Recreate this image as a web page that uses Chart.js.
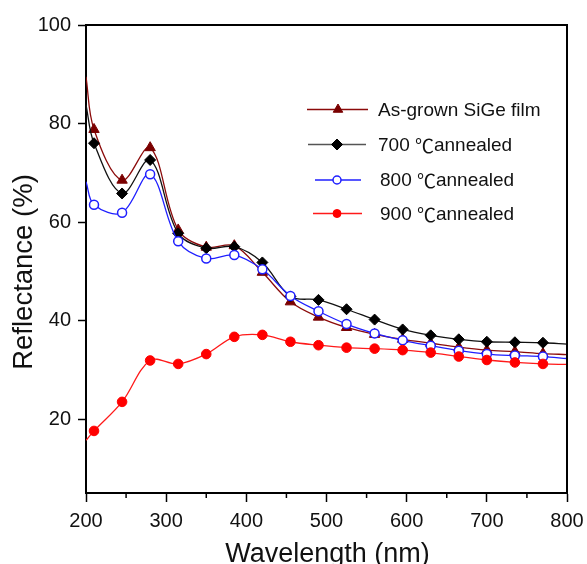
<!DOCTYPE html>
<html>
<head>
<meta charset="utf-8">
<script src="https://cdn.jsdelivr.net/npm/chart.js@4.4.1/dist/chart.umd.min.js"></script>
<style>
  html, body { margin: 0; padding: 0; background: #fff; }
  canvas { display: block; }
</style>
</head>
<body>
<canvas id="chart" width="587" height="564"></canvas>
<script>
// Reflectance spectra of SiGe films (%), sampled every 35 nm from 210 to 770 nm;
// the 200 and 800 nm entries carry the curves to the axis edges without a marker.
const wavelengths  = [200, 210, 245, 280, 315, 350, 385, 420, 455, 490, 525, 560, 595, 630, 665, 700, 735, 770, 800];
const asGrown      = [89.5, 78.8, 68.5, 75.1, 58.4, 54.9, 55.2, 49.8, 43.8, 40.7, 38.6, 37.2, 36.2, 35.4, 34.6, 34.0, 33.7, 33.3, 33.1];
const annealed700  = [83.8, 76.0, 65.8, 72.6, 57.7, 54.7, 55.0, 51.8, 44.9, 44.2, 42.3, 40.2, 38.2, 37.0, 36.2, 35.7, 35.6, 35.5, 35.2];
const annealed800  = [68.2, 63.5, 61.9, 69.7, 56.1, 52.6, 53.3, 50.4, 45.0, 41.9, 39.3, 37.4, 36.0, 34.9, 33.9, 33.2, 32.9, 32.7, 32.3];
const annealed900  = [15.7, 17.6, 23.5, 31.9, 31.2, 33.2, 36.7, 37.1, 35.7, 35.0, 34.5, 34.3, 34.0, 33.5, 32.7, 32.0, 31.5, 31.2, 31.1];

const seriesNames  = ['As-grown SiGe film', '700 \u2103annealed', '800 \u2103annealed', '900 \u2103annealed'];

const xTicks       = [200, 300, 400, 500, 600, 700, 800];
const xMinorTicks  = [250, 350, 450, 550, 650, 750];
const yTicks       = [20, 40, 60, 80, 100];

const xTitle = 'Wavelength (nm)';
const yTitle = 'Reflectance (%)';

const FONT = '"Liberation Sans", Arial, sans-serif';
const CJK_FONT = '"Noto Sans CJK SC", "Noto Sans CJK JP", sans-serif';
const DEGREE_C = '\u2103';
const LEGEND_SIZE = 19;
const lastIndex = wavelengths.length - 1;

function toPoints(values) {
  return wavelengths.map((w, i) => ({ x: w, y: values[i] }));
}

// marker hidden on the two edge entries
function markerSize(r) {
  return ctx => (ctx.dataIndex === 0 || ctx.dataIndex === lastIndex) ? 0 : r;
}

const styles = [
  { line: '#8b0a0a', legendLine: '#8b0a0a', point: 'triangle', r: 6,   fill: '#7a0000', stroke: '#7a0000', order: 3 },
  { line: '#111111', legendLine: '#555555', point: 'rectRot',  r: 5.5, fill: '#000000', stroke: '#000000', order: 2 },
  { line: '#1f1fff', legendLine: '#1f1fff', point: 'circle',   r: 4.5, fill: '#ffffff', stroke: '#1f1fff', order: 1 },
  { line: '#ff1a1a', legendLine: '#ff1a1a', point: 'circle',   r: 4.8, fill: '#ff0000', stroke: '#ff0000', order: 0 }
];

const seriesValues = [asGrown, annealed700, annealed800, annealed900];

const datasets = seriesValues.map((vals, i) => ({
  label: seriesNames[i],
  data: toPoints(vals),
  borderColor: styles[i].line,
  borderWidth: 1.3,
  tension: 0.35,
  pointStyle: styles[i].point,
  pointRadius: markerSize(styles[i].r),
  pointBackgroundColor: styles[i].fill,
  pointBorderColor: styles[i].stroke,
  pointBorderWidth: i === 2 ? 1.5 : 1,
  order: styles[i].order
}));

// writes a label, setting the degree sign in the CJK face
function drawLabel(ctx, text, x, y) {
  const parts = text.split(DEGREE_C);
  let cx = x;
  parts.forEach((part, k) => {
    ctx.font = LEGEND_SIZE + 'px ' + FONT;
    ctx.fillText(part, cx, y);
    cx += ctx.measureText(part).width;
    if (k < parts.length - 1) {
      ctx.font = LEGEND_SIZE + 'px ' + CJK_FONT;
      ctx.fillText(DEGREE_C, cx, y);
      cx += ctx.measureText(DEGREE_C).width;
    }
  });
}

// frame, minor ticks, axis titles and the inset legend
const decorations = {
  id: 'decorations',
  afterDraw(chart) {
    const { ctx, chartArea: a, scales } = chart;
    ctx.save();

    // top and right edges of the plot frame
    ctx.strokeStyle = '#000';
    ctx.lineWidth = 2;
    ctx.beginPath();
    ctx.moveTo(a.left - 1, a.top);
    ctx.lineTo(a.right, a.top);
    ctx.lineTo(a.right, a.bottom + 1);
    ctx.stroke();

    // minor ticks on the wavelength axis
    ctx.lineWidth = 1.5;
    xMinorTicks.forEach(v => {
      const x = scales.x.getPixelForValue(v);
      ctx.beginPath();
      ctx.moveTo(x, a.bottom);
      ctx.lineTo(x, a.bottom + 5);
      ctx.stroke();
    });

    // axis titles
    ctx.fillStyle = '#111';
    ctx.font = '27px ' + FONT;
    ctx.textAlign = 'center';
    ctx.textBaseline = 'alphabetic';
    ctx.fillText(xTitle, (a.left + a.right) / 2 + 1, 562);
    ctx.save();
    ctx.translate(32, 272);
    ctx.rotate(-Math.PI / 2);
    ctx.font = '27.5px ' + FONT;
    ctx.fillText(yTitle, 0, 0);
    ctx.restore();

    // legend
    const rows = [109.5, 144.5, 180, 213.5];
    const lineSpans = [[307, 368], [308, 366], [315, 361], [313, 362]];
    const markerX = [338, 337, 337, 337];
    const textX = [378, 378, 380, 380];
    ctx.textAlign = 'left';
    ctx.textBaseline = 'middle';
    chart.data.datasets.forEach((ds, i) => {
      const y = rows[i];
      const s = styles[i];
      ctx.strokeStyle = s.legendLine;
      ctx.lineWidth = 1.3;
      ctx.beginPath();
      ctx.moveTo(lineSpans[i][0], y);
      ctx.lineTo(lineSpans[i][1], y);
      ctx.stroke();
      ctx.fillStyle = s.fill;
      ctx.strokeStyle = s.stroke;
      ctx.lineWidth = i === 2 ? 1.5 : 1;
      Chart.helpers.drawPoint(ctx, { pointStyle: s.point, radius: i < 2 ? 5.5 : 4, borderWidth: ctx.lineWidth, rotation: 0 }, markerX[i], y);
      ctx.fillStyle = '#111';
      drawLabel(ctx, ds.label, textX[i], y + 1);
    });

    ctx.restore();
  }
};

new Chart(document.getElementById('chart'), {
  type: 'line',
  data: { datasets },
  options: {
    responsive: false,
    animation: false,
    devicePixelRatio: 1,
    layout: { padding: { top: 25, right: 20, left: 0, bottom: 0 } },
    plugins: {
      legend: { display: false },
      tooltip: { enabled: false }
    },
    scales: {
      x: {
        type: 'linear',
        min: 200,
        max: 800,
        afterBuildTicks: s => { s.ticks = xTicks.map(v => ({ value: v })); },
        afterFit: s => { s.height = 71; s.paddingLeft = 0; s.paddingRight = 0; },
        ticks: {
          color: '#111',
          font: { family: FONT, size: 20 },
          padding: 7,
          maxRotation: 0
        },
        grid: { display: true, drawOnChartArea: false, drawTicks: true, tickLength: 9, tickColor: '#000', tickWidth: 1.5 },
        border: { display: true, color: '#000', width: 2 }
      },
      y: {
        type: 'linear',
        min: 5,
        max: 100,
        afterBuildTicks: s => { s.ticks = yTicks.map(v => ({ value: v })); },
        afterFit: s => { s.width = 86; s.paddingTop = 0; s.paddingBottom = 0; },
        ticks: {
          color: '#111',
          font: { family: FONT, size: 20 },
          padding: 7
        },
        grid: { display: true, drawOnChartArea: false, drawTicks: true, tickLength: 8, tickColor: '#000', tickWidth: 1.5 },
        border: { display: true, color: '#000', width: 2 }
      }
    }
  },
  plugins: [decorations]
});
</script>
</body>
</html>
